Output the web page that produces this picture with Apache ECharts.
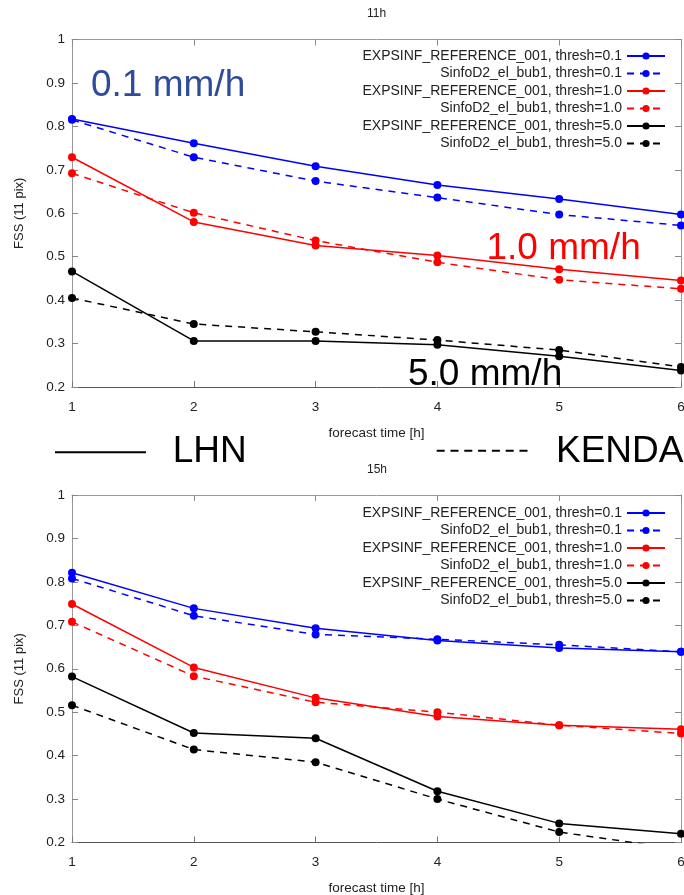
<!DOCTYPE html>
<html>
<head>
<meta charset="utf-8">
<script src="https://cdn.jsdelivr.net/npm/echarts@6/dist/echarts.min.js"></script>
<style>
html,body{margin:0;padding:0;background:#fff;overflow:hidden;}
#chart{width:684px;height:895px;}
</style>
</head>
<body>
<div id="chart"></div>
<script>
// ---- data ----
const forecastHours = [1, 2, 3, 4, 5, 6];
const seriesNames = [
  'EXPSINF_REFERENCE_001, thresh=0.1',
  'SinfoD2_el_bub1, thresh=0.1',
  'EXPSINF_REFERENCE_001, thresh=1.0',
  'SinfoD2_el_bub1, thresh=1.0',
  'EXPSINF_REFERENCE_001, thresh=5.0',
  'SinfoD2_el_bub1, thresh=5.0'
];
const panelTitles = ['11h', '15h'];
// 11h panel
const lhn01_11   = [0.817, 0.761, 0.708, 0.665, 0.633, 0.597];
const kenda01_11 = [0.815, 0.729, 0.674, 0.636, 0.597, 0.572];
const lhn10_11   = [0.729, 0.580, 0.526, 0.503, 0.471, 0.445];
const kenda10_11 = [0.692, 0.601, 0.537, 0.487, 0.447, 0.426];
const lhn50_11   = [0.466, 0.306, 0.306, 0.297, 0.271, 0.238];
const kenda50_11 = [0.405, 0.345, 0.327, 0.308, 0.285, 0.246];
// 15h panel
const lhn01_15   = [0.821, 0.739, 0.693, 0.665, 0.648, 0.639];
const kenda01_15 = [0.808, 0.722, 0.679, 0.668, 0.655, 0.639];
const lhn10_15   = [0.749, 0.603, 0.533, 0.490, 0.470, 0.461];
const kenda10_15 = [0.708, 0.583, 0.523, 0.500, 0.470, 0.451];
const lhn50_15   = [0.582, 0.452, 0.440, 0.318, 0.244, 0.220];
const kenda50_15 = [0.516, 0.414, 0.385, 0.300, 0.224, 0.184];

const panels = [
  [lhn01_11, kenda01_11, lhn10_11, kenda10_11, lhn50_11, kenda50_11],
  [lhn01_15, kenda01_15, lhn10_15, kenda10_15, lhn50_15, kenda50_15]
];

// ---- styles ----
const FONT = 'Liberation Sans, Arial, sans-serif';
const colors = ['#0000ff', '#0000ff', '#ff0000', '#ff0000', '#000000', '#000000'];
const dashed = [false, true, false, true, false, true];
const gridTops = [39.5, 495];
const legendTops = [44, 501];
const gridH = 347.5;

const grids = [], xAxes = [], yAxes = [], series = [], legends = [];
panels.forEach((vals, p) => {
  grids.push({left: 72, right: 3, top: gridTops[p], height: gridH, outerBoundsMode: 'none', containLabel: false});
  // bottom x axis
  xAxes.push({
    type: 'value', gridIndex: p, min: 1, max: 6, interval: 1, position: 'bottom',
    name: 'forecast time [h]', nameLocation: 'middle', nameGap: 39,
    nameTextStyle: {fontFamily: FONT, fontSize: 13.5, color: '#222'},
    axisLine: {lineStyle: {color: '#555', width: 1}},
    axisTick: {inside: true, length: 6, lineStyle: {color: '#777'}},
    axisLabel: {fontFamily: FONT, fontSize: 13.5, color: '#222', margin: 13, hideOverlap: false},
    splitLine: {show: false}
  });
  // top mirror
  xAxes.push({
    type: 'value', gridIndex: p, min: 1, max: 6, interval: 1, position: 'top',
    axisLine: {lineStyle: {color: '#999', width: 1}},
    axisTick: {inside: true, length: 6, lineStyle: {color: '#888'}},
    axisLabel: {show: false}, splitLine: {show: false}
  });
  yAxes.push({
    type: 'value', gridIndex: p, min: 0.2, max: 1, interval: 0.1, position: 'left',
    name: 'FSS (11 pix)', nameLocation: 'middle', nameGap: 46,
    nameTextStyle: {fontFamily: FONT, fontSize: 13, color: '#222'},
    axisLine: {show: true, lineStyle: {color: '#999', width: 1}},
    axisTick: {show: true, inside: true, length: 6, lineStyle: {color: '#888'}},
    axisLabel: {fontFamily: FONT, fontSize: 13.5, color: '#222', margin: 7},
    splitLine: {show: false}
  });
  yAxes.push({
    type: 'value', gridIndex: p, min: 0.2, max: 1, interval: 0.1, position: 'right',
    axisLine: {show: true, lineStyle: {color: '#999', width: 1}},
    axisTick: {show: true, inside: true, length: 6, lineStyle: {color: '#888'}},
    axisLabel: {show: false}, splitLine: {show: false}
  });
  vals.forEach((arr, i) => {
    series.push({
      type: 'line', name: seriesNames[i],
      xAxisIndex: p * 2, yAxisIndex: p * 2,
      data: forecastHours.map((h, k) => [h, arr[k]]),
      symbol: 'circle', symbolSize: 8, clip: true,
      lineStyle: {color: colors[i], width: 1.5, type: dashed[i] ? [7, 6] : 'solid'},
      itemStyle: {color: colors[i]},
      emphasis: {disabled: true},
      z: 3 + i
    });
  });
  legends.push({
    orient: 'vertical', right: 13, top: legendTops[p], align: 'right',
    itemWidth: 38, itemHeight: 9, itemGap: 3.5,
    textStyle: {fontFamily: FONT, fontSize: 14, color: '#222', lineHeight: 14},
    data: seriesNames, selectedMode: false
  });
});

const graphics = [
  {type: 'text', style: {text: panelTitles[0], x: 376.5, y: 14, align: 'center', verticalAlign: 'middle', font: '12px ' + FONT, fill: '#222'}},
  {type: 'text', style: {text: panelTitles[1], x: 377, y: 469.5, align: 'center', verticalAlign: 'middle', font: '12px ' + FONT, fill: '#222'}},
  {type: 'text', style: {text: '0.1 mm/h', x: 91, y: 86, align: 'left', verticalAlign: 'middle', font: '37px ' + FONT, fill: '#2f4b9b'}, z: 10},
  {type: 'text', style: {text: '1.0 mm/h', x: 486.5, y: 248.5, align: 'left', verticalAlign: 'middle', font: '37px ' + FONT, fill: '#ff0000'}, z: 10},
  {type: 'text', style: {text: '5.0 mm/h', x: 408, y: 375, align: 'left', verticalAlign: 'middle', font: '37px ' + FONT, fill: '#000'}, z: 10},
  {type: 'line', shape: {x1: 55, y1: 452.3, x2: 146, y2: 452.3}, style: {stroke: '#000', lineWidth: 2}},
  {type: 'text', style: {text: 'LHN', x: 172.7, y: 452, align: 'left', verticalAlign: 'middle', font: '37px ' + FONT, fill: '#000'}},
  {type: 'line', shape: {x1: 436.7, y1: 450.7, x2: 527.7, y2: 450.7}, style: {stroke: '#000', lineWidth: 2, lineDash: [8, 5.8]}},
  {type: 'text', style: {text: 'KENDA', x: 556, y: 452, align: 'left', verticalAlign: 'middle', font: '37px ' + FONT, fill: '#000'}}
];

const chart = echarts.init(document.getElementById('chart'), null, {renderer: 'canvas'});
chart.setOption({
  animation: false,
  backgroundColor: '#fff',
  grid: grids, xAxis: xAxes, yAxis: yAxes, series: series, legend: legends,
  graphic: graphics
});
</script>
</body>
</html>
